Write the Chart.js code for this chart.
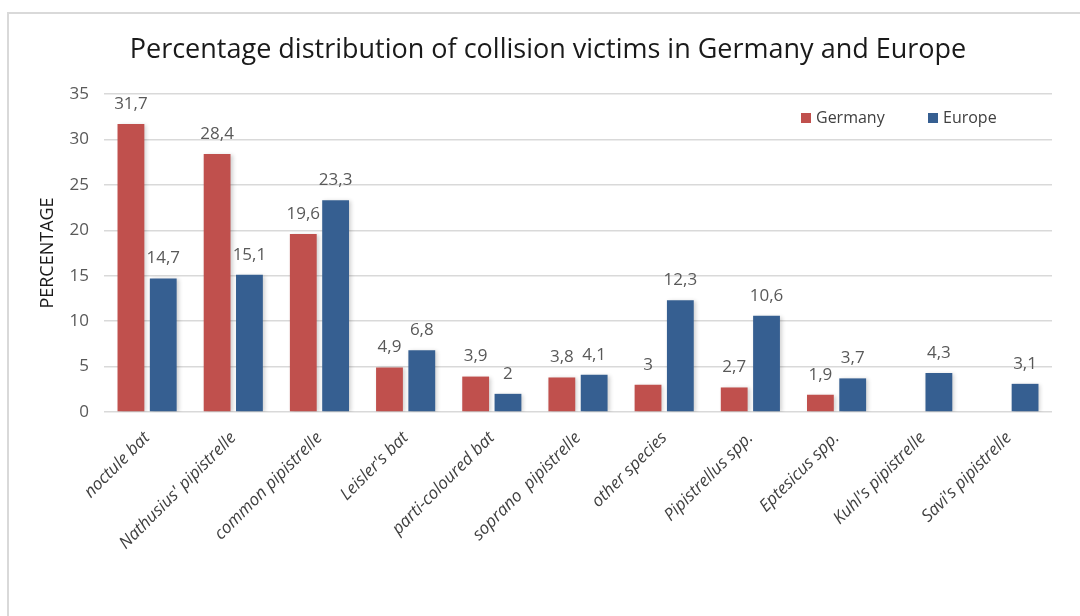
<!DOCTYPE html>
<html>
<head>
<meta charset="utf-8">
<script src="https://cdn.jsdelivr.net/npm/chart.js@4.4.0/dist/chart.umd.min.js"></script>
<style>
  html, body { margin: 0; padding: 0; background: #fff; overflow: hidden; }
  #frame {
    position: absolute; left: 7px; top: 12px; width: 1200px; height: 700px;
    border: 2px solid #d9d9d9; box-sizing: border-box;
  }
  #wrap { position: absolute; left: 0; top: 0; width: 1052px; height: 616px; }
</style>
</head>
<body>
<div id="frame"></div>
<div id="wrap"><canvas id="batChart" width="1052" height="616"></canvas></div>
<script>
// bat species found under wind turbines, share in percent
const categories = [
  'noctule bat', "Nathusius' pipistrelle", 'common pipistrelle', "Leisler's bat",
  'parti-coloured bat', 'soprano  pipistrelle', 'other species', 'Pipistrellus spp.',
  'Eptesicus spp.', "Kuhl's pipistrelle", "Savi's pipistrelle"
];
const germanyValues = [31.7, 28.4, 19.6, 4.9, 3.9, 3.8, 3, 2.7, 1.9, null, null];
const europeValues = [14.7, 15.1, 23.3, 6.8, 2, 4.1, 12.3, 10.6, 3.7, 4.3, 3.1];
const yTickValues = [0, 5, 10, 15, 20, 25, 30, 35];

const FONT = '"Open Sans", "Noto Sans", sans-serif';
const RED = '#c0504d';
const BLUE = '#365f91';

// value labels above each bar, with comma decimals
const barLabels = {
  id: 'barLabels',
  afterDatasetsDraw(chart) {
    const ctx = chart.ctx;
    ctx.save();
    ctx.font = '17px ' + FONT;
    ctx.fillStyle = '#595959';
    ctx.textAlign = 'center';
    ctx.textBaseline = 'middle';
    chart.data.datasets.forEach((ds, i) => {
      chart.getDatasetMeta(i).data.forEach((bar, j) => {
        const v = ds.data[j];
        if (v === null || v === undefined) return;
        ctx.fillText(String(v).replace('.', ','), bar.x, bar.y - 20);
      });
    });
    ctx.restore();
  }
};

// faint drop shadow behind the bars
const barShadow = {
  id: 'barShadow',
  beforeDatasetsDraw(chart) {
    const ctx = chart.ctx;
    ctx.save();
    ctx.shadowColor = 'rgba(0,0,0,0.18)';
    ctx.shadowBlur = 4;
    ctx.shadowOffsetX = 2;
    ctx.shadowOffsetY = 1;
  },
  afterDatasetsDraw(chart) {
    chart.ctx.restore();
  }
};

// legend inside the plot, top right
const insideLegend = {
  id: 'insideLegend',
  afterDraw(chart) {
    const ctx = chart.ctx;
    const area = chart.chartArea;
    const offsets = [251, 124];
    ctx.save();
    ctx.font = '16px ' + FONT;
    ctx.textBaseline = 'middle';
    ctx.textAlign = 'left';
    chart.data.datasets.forEach((ds, i) => {
      const x = area.right - offsets[i];
      const y = 118;
      ctx.fillStyle = ds.backgroundColor;
      ctx.fillRect(x, y - 5, 10, 10);
      ctx.fillStyle = '#404040';
      ctx.fillText(ds.label, x + 15, y);
    });
    ctx.restore();
  }
};

new Chart(document.getElementById('batChart'), {
  type: 'bar',
  data: {
    labels: categories,
    datasets: [
      { label: 'Germany', data: germanyValues, backgroundColor: RED },
      { label: 'Europe', data: europeValues, backgroundColor: BLUE }
    ]
  },
  options: {
    responsive: false,
    animation: false,
    categoryPercentage: 0.75,
    barPercentage: 0.83,
    layout: { padding: { left: 44, right: 0, top: 0, bottom: 0 } },
    plugins: {
      legend: { display: false },
      tooltip: { enabled: false },
      title: {
        display: true,
        text: 'Percentage distribution of collision victims in Germany and Europe',
        color: '#1a1a1a',
        font: { family: FONT, size: 27, weight: 'normal', lineHeight: 1.2 },
        padding: { top: 34, bottom: 27.6 }
      }
    },
    scales: {
      x: {
        grid: { display: false },
        border: { display: false },
        ticks: {
          autoSkip: false,
          maxRotation: 45,
          minRotation: 45,
          padding: 8,
          color: '#404040',
          font: { family: FONT, size: 17, style: 'italic' }
        },
        afterFit(scale) { scale.height = 204; }
      },
      y: {
        min: 0,
        max: 35,
        afterBuildTicks(scale) { scale.ticks = yTickValues.map(v => ({ value: v })); },
        grid: { color: '#d9d9d9', lineWidth: 1.5, drawTicks: false },
        border: { display: false },
        ticks: {
          padding: 15,
          color: '#595959',
          font: { family: FONT, size: 17 }
        },
        title: {
          display: true,
          text: 'PERCENTAGE',
          color: '#1a1a1a',
          font: { family: FONT, size: 18 },
          padding: { top: -7, bottom: 0 }
        },
        afterFit(scale) { scale.width = 60; }
      }
    }
  },
  plugins: [barShadow, barLabels, insideLegend]
});
</script>
</body>
</html>
